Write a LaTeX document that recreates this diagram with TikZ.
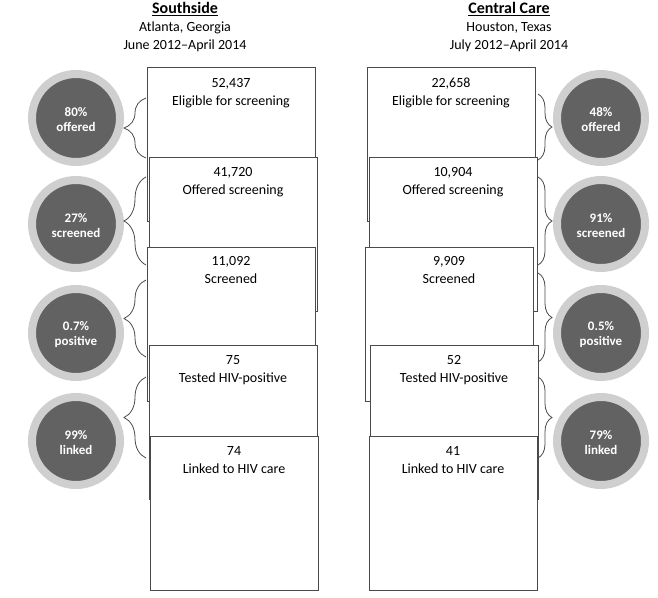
\documentclass[tikz,border=0pt]{standalone}
\usepackage{fontspec}
\setmainfont{Carlito}
\usetikzlibrary{decorations.pathreplacing}
\definecolor{ring}{HTML}{CFCFCF}
\definecolor{disc}{HTML}{626262}
\definecolor{edge}{HTML}{4A4A4A}
\newcommand{\toplift}{\rule{0pt}{13pt}}
\begin{document}
\begin{tikzpicture}[x=1pt,y=-1pt,
  box/.style={draw=edge, fill=white, line width=0.8pt, minimum width=168pt, minimum height=154pt, anchor=north west, inner sep=0pt},
  boxtext/.style={anchor=north, align=center, inner sep=0pt, font=\fontsize{14}{18}\selectfont},
  stat/.style={circle, fill=disc, draw=ring, line width=8pt, minimum size=88pt, inner sep=0pt, align=center, text=white, font=\bfseries\fontsize{13}{15}\selectfont},
  lbrc/.style={draw=edge, line width=0.8pt, decorate, decoration={brace, amplitude=22pt}},
  rbrc/.style={draw=edge, line width=0.8pt, decorate, decoration={brace, amplitude=14pt}},
  ttl/.style={anchor=base, inner sep=0pt, font=\bfseries\fontsize{16}{18}\selectfont},
  sub/.style={anchor=base, inner sep=0pt, font=\fontsize{14}{18}\selectfont}
]
\useasboundingbox (0,0) rectangle (658,597);

% titles
\node[ttl] (sT) at (185,13.5) {\underline{Southside}};
\node[sub] (sA) at (185,31.5) {Atlanta, Georgia};
\node[sub] (sD) at (185,49) {June 2012–April 2014};
\node[ttl] (cT) at (509,13.5) {\underline{Central Care}};
\node[sub] (cA) at (509,31.5) {Houston, Texas};
\node[sub] (cD) at (509,49) {July 2012–April 2014};

% left column boxes
\node[box] (s1) at (147,67) {};
\node[boxtext] (s1t) at (231,78) {52,437\\Eligible for screening};
\node[box] (s2) at (149,157) {};
\node[boxtext] (s2t) at (233,167.5) {41,720\\Offered screening};
\node[box] (s3) at (147,247) {};
\node[boxtext] (s3t) at (231,256) {11,092\\Screened};
\node[box] (s4) at (149,345) {};
\node[boxtext] (s4t) at (233,355) {75\\Tested HIV-positive};
\node[box] (s5) at (150,436) {};
\node[boxtext] (s5t) at (234,446) {74\\Linked to HIV care};

% right column boxes
\node[box] (c1) at (367,67) {};
\node[boxtext] (c1t) at (451,78) {22,658\\Eligible for screening};
\node[box] (c2) at (369,157) {};
\node[boxtext] (c2t) at (453,167.5) {10,904\\Offered screening};
\node[box] (c3) at (365,247) {};
\node[boxtext] (c3t) at (449,256) {9,909\\Screened};
\node[box] (c4) at (370,345) {};
\node[boxtext] (c4t) at (454,355) {52\\Tested HIV-positive};
\node[box] (c5) at (369,436) {};
\node[boxtext] (c5t) at (453,446) {41\\Linked to HIV care};

% circles
\node[stat] (sp1) at (76,118) {\toplift 80\%\\offered};
\node[stat] (sp2) at (76,224) {\toplift 27\%\\screened};
\node[stat] (sp3) at (76,333) {\toplift 0.7\%\\positive};
\node[stat] (sp4) at (76,441) {\toplift 99\%\\linked};
\node[stat] (cp1) at (601,118) {\toplift 48\%\\offered};
\node[stat] (cp2) at (601,224) {\toplift 91\%\\screened};
\node[stat] (cp3) at (601,333) {\toplift 0.5\%\\positive};
\node[stat] (cp4) at (601,441) {\toplift 79\%\\linked};

% brace end points
\coordinate (sb1a) at (146,98);  \coordinate (sb1b) at (146,158);
\coordinate (sb2a) at (146,177); \coordinate (sb2b) at (146,265);
\coordinate (sb3a) at (146,280); \coordinate (sb3b) at (146,357);
\coordinate (sb4a) at (146,377); \coordinate (sb4b) at (146,458);
\coordinate (cb1a) at (538,94);  \coordinate (cb1b) at (538,160);
\coordinate (cb2a) at (538,177); \coordinate (cb2b) at (538,265);
\coordinate (cb3a) at (538,273); \coordinate (cb3b) at (538,362);
\coordinate (cb4a) at (538,377); \coordinate (cb4b) at (538,458);

\draw[lbrc] (sb1b) -- (sb1a);
\draw[lbrc] (sb2b) -- (sb2a);
\draw[lbrc] (sb3b) -- (sb3a);
\draw[lbrc] (sb4b) -- (sb4a);
\draw[rbrc] (cb1a) -- (cb1b);
\draw[rbrc] (cb2a) -- (cb2b);
\draw[rbrc] (cb3a) -- (cb3b);
\draw[rbrc] (cb4a) -- (cb4b);
\end{tikzpicture}
\end{document}
